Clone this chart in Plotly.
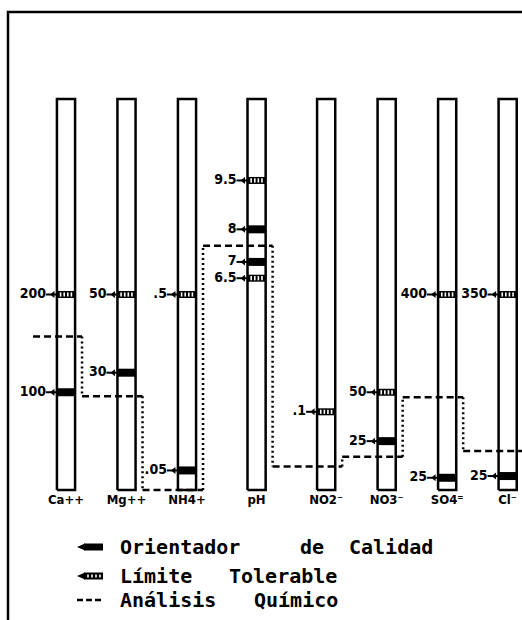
import plotly.graph_objects as go

# ---------------------------------------------------------------- data
PARAMS = ["Ca++", "Mg++", "NH4+", "pH", "NO2⁻", "NO3⁻", "SO4⁼", "Cl⁻"]
# full height of every column, in that column's own units
SCALE_MAX = [400, 100, 1, 12, 0.5, 200, 800, 700]
# Orientador de Calidad (guide values)
GUIDE = [[100], [30], [0.05], [8, 7], [], [25], [25], [25]]
GUIDE_LABELS = [["100"], ["30"], [".05"], ["8", "7"], [], ["25"], ["25"], ["25"]]
# Límite Tolerable (tolerable limits)
LIMIT = [[200], [50], [0.5], [9.5, 6.5], [0.1], [50], [400], [350]]
LIMIT_LABELS = [["200"], ["50"], [".5"], ["9.5", "6.5"], [".1"], ["50"], ["400"], ["350"]]
# Análisis Químico (measured values)
ANALYSIS = [157, 24, 0, 7.5, 0.03, 17, 190, 70]

# ---------------------------------------------------------------- layout
W, H = 522, 620
X_POS = [0, 1, 2, 3.15, 4.3, 5.3, 6.3, 7.3]     # column centres
PX_X = 60.5                                     # pixels per x unit
PX_Y = 391                                      # pixels per full column
COL_BOTTOM = 490                                # pixel row of the column bases
X_RANGE = [-66 / PX_X, (W - 66) / PX_X]
Y_RANGE = [-(H - COL_BOTTOM) / PX_Y, COL_BOTTOM / PX_Y]
BAR_W = 0.30
HALF = BAR_W / 2
STEP_OFF = 0.265        # where the analysis line steps to the next column
START_OFF = -0.545      # start of the analysis line, left of first column
LEAD = 11 / PX_X        # leader dash length
NAME_GAP = -11 / PX_Y   # parameter names sit just below the columns
NARROW = "Liberation Sans Narrow, DejaVu Sans Condensed, sans-serif"
LABEL_FONT = dict(family=NARROW, size=14, color="black", weight="bold")
NAME_FONT = dict(family=NARROW, size=13, color="black", weight="bold")
LEGEND_FONT = dict(family="DejaVu Sans Mono, Liberation Mono, monospace",
                   size=20, color="black", weight="bold")


def frac(i, v):
    """Position of value v inside column i (0 = bottom, 1 = top)."""
    return v / SCALE_MAX[i]


fig = go.Figure()
n = len(X_POS)

# column outlines: closed rectangles from 0 to the full scale of each column
cx, cy = [], []
for i in range(n):
    top = frac(i, SCALE_MAX[i])
    l, r = X_POS[i] - HALF, X_POS[i] + HALF
    cx += [l, r, r, l, l, None]
    cy += [0, 0, top, top, 0, None]
fig.add_trace(go.Scatter(x=cx, y=cy, mode="lines", fill="toself", fillcolor="white",
                         line=dict(color="black", width=2.5),
                         hoverinfo="skip", showlegend=False))

# chemical analysis: stepped dashed line across the columns
hx, hy, vx, vy = [], [], [], []
for i in range(n):
    y = frac(i, ANALYSIS[i])
    x0 = X_POS[i] + START_OFF if i == 0 else X_POS[i - 1] + STEP_OFF
    x1 = X_POS[i] + STEP_OFF if i < n - 1 else X_POS[i] + 0.8
    hx += [x0, x1, None]
    hy += [y, y, None]
    if i < n - 1:
        vx += [x1, x1, None]
        vy += [y, frac(i + 1, ANALYSIS[i + 1]), None]
fig.add_trace(go.Scatter(x=hx, y=hy, mode="lines",
                         line=dict(color="black", width=2.5, dash="7px,4px"),
                         hoverinfo="skip", showlegend=False))
fig.add_trace(go.Scatter(x=vx, y=vy, mode="lines",
                         line=dict(color="black", width=2.5, dash="2px,3px"),
                         hoverinfo="skip", showlegend=False))

# marker bands, leaders and value labels
band_g_x, band_g_y, band_l_x, band_l_y = [], [], [], []
slit_x, slit_y, lead_x, lead_y, tip_x, tip_y = [], [], [], [], [], []
lab_x, lab_y, lab_t = [], [], []
slit_offsets = [-5.4 / PX_X, -1.8 / PX_X, 1.8 / PX_X, 5.4 / PX_X]
for i in range(n):
    xc = X_POS[i]
    for kind, vals, labs in (("g", GUIDE[i], GUIDE_LABELS[i]),
                             ("l", LIMIT[i], LIMIT_LABELS[i])):
        for v, t in zip(vals, labs):
            y = frac(i, v)
            if kind == "g":
                band_g_x += [xc - HALF, xc + HALF, None]
                band_g_y += [y, y, None]
            else:
                band_l_x += [xc - HALF, xc + HALF, None]
                band_l_y += [y, y, None]
                for o in slit_offsets:
                    slit_x.append(xc + o)
                    slit_y.append(y)
            lead_x += [xc - HALF - LEAD, xc - HALF, None]
            lead_y += [y, y, None]
            tip_x.append(xc - HALF - 4 / PX_X)
            tip_y.append(y)
            lab_x.append(xc - HALF - LEAD)
            lab_y.append(y)
            lab_t.append(t)

fig.add_trace(go.Scatter(x=lead_x, y=lead_y, mode="lines",
                         line=dict(color="black", width=2),
                         hoverinfo="skip", showlegend=False))
fig.add_trace(go.Scatter(x=tip_x, y=tip_y, mode="markers",
                         marker=dict(symbol="triangle-left", size=6, color="black"),
                         hoverinfo="skip", showlegend=False))
fig.add_trace(go.Scatter(x=band_g_x, y=band_g_y, mode="lines",
                         line=dict(color="black", width=8),
                         hoverinfo="skip", showlegend=False))
fig.add_trace(go.Scatter(x=band_l_x, y=band_l_y, mode="lines",
                         line=dict(color="black", width=7),
                         hoverinfo="skip", showlegend=False))
fig.add_trace(go.Scatter(x=slit_x, y=slit_y, mode="markers",
                         marker=dict(symbol="line-ns", size=3,
                                     line=dict(color="white", width=1.6)),
                         hoverinfo="skip", showlegend=False))
fig.add_trace(go.Scatter(x=lab_x, y=lab_y, mode="text", text=lab_t,
                         textposition="middle left",
                         textfont=LABEL_FONT, hoverinfo="skip", showlegend=False))
# parameter names under the columns
fig.add_trace(go.Scatter(x=X_POS, y=[NAME_GAP] * n, mode="text", text=PARAMS,
                         textposition="middle center",
                         textfont=NAME_FONT, hoverinfo="skip", showlegend=False))


# ---------------------------------------------------------------- frame & legend
def fx(px):
    return px / W


def fy(py):
    return (H - py) / H


shapes = [
    dict(type="path", xref="paper", yref="paper",
         path=f"M {fx(8)} {fy(H + 5)} L {fx(8)} {fy(12)} L {fx(W + 5)} {fy(12)}",
         line=dict(color="black", width=2.5)),
]
# legend glyphs
for row_y, striped in ((547, False), (576, True)):
    shapes.append(dict(type="path", xref="paper", yref="paper",
                       path=f"M {fx(77)} {fy(row_y)} L {fx(85)} {fy(row_y - 3.5)} "
                            f"L {fx(85)} {fy(row_y + 3.5)} Z",
                       fillcolor="black", line=dict(width=0)))
    shapes.append(dict(type="rect", xref="paper", yref="paper",
                       x0=fx(84), x1=fx(103), y0=fy(row_y + 3.5), y1=fy(row_y - 3.5),
                       fillcolor="black", line=dict(width=0)))
    if striped:
        for sx in (88, 92, 96, 100):
            shapes.append(dict(type="rect", xref="paper", yref="paper",
                               x0=fx(sx - 0.8), x1=fx(sx + 0.8),
                               y0=fy(row_y + 1.5), y1=fy(row_y - 1.5),
                               fillcolor="white", line=dict(width=0)))
shapes.append(dict(type="line", xref="paper", yref="paper",
                   x0=fx(77), x1=fx(104), y0=fy(600), y1=fy(600),
                   line=dict(color="black", width=2.5, dash="6px,3px")))

annotations = []
for word, wx, wy in (("Orientador", 118, 547), ("de", 298, 547), ("Calidad", 347, 547),
                     ("Límite", 118, 576), ("Tolerable", 227, 576),
                     ("Análisis", 118, 600), ("Químico", 252, 600)):
    annotations.append(dict(text=word, x=fx(wx), y=fy(wy), xref="paper", yref="paper",
                            xanchor="left", yanchor="middle", showarrow=False,
                            font=LEGEND_FONT))

fig.update_layout(
    width=W, height=H,
    margin=dict(l=0, r=0, t=0, b=0),
    paper_bgcolor="white", plot_bgcolor="white",
    showlegend=False,
    xaxis=dict(range=X_RANGE, visible=False, fixedrange=True),
    yaxis=dict(range=Y_RANGE, visible=False, fixedrange=True),
    shapes=shapes, annotations=annotations,
)

fig.write_html("out.html", config={"displayModeBar": False})
